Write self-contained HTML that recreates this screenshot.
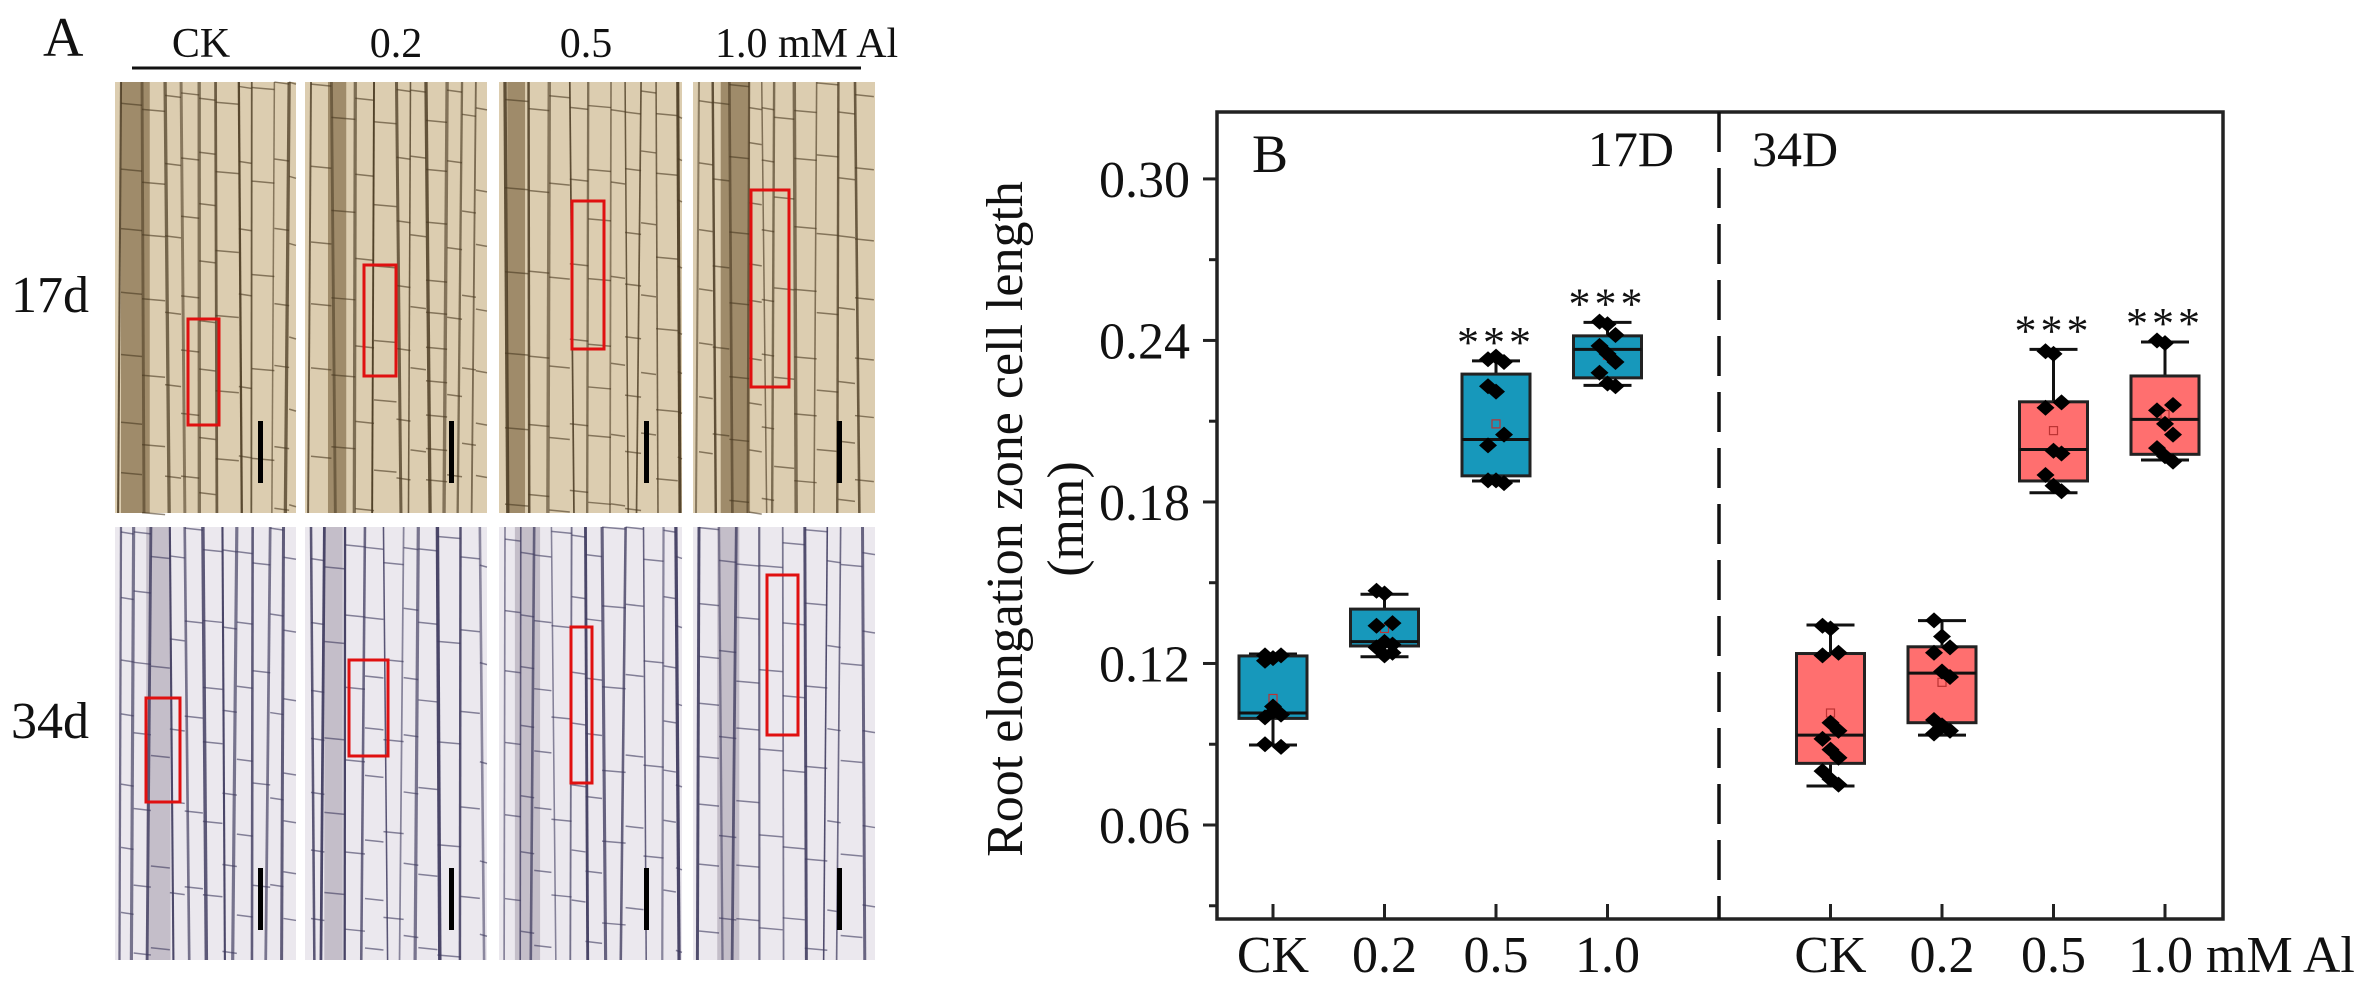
<!DOCTYPE html>
<html><head><meta charset="utf-8"><style>
html,body{margin:0;padding:0;background:#fff;}
svg{display:block;}
text{font-family:"Liberation Serif","DejaVu Serif",serif;fill:#111;}
</style></head><body>
<svg id="fig" width="2357" height="990" viewBox="0 0 2357 990" xmlns="http://www.w3.org/2000/svg">
  <g id="panelA">
    <text x="43" y="56" font-size="56">A</text>
    <text x="201" y="57" font-size="42" text-anchor="middle">CK</text>
    <text x="396" y="57" font-size="42" text-anchor="middle">0.2</text>
    <text x="586" y="57" font-size="42" text-anchor="middle">0.5</text>
    <text x="715" y="57" font-size="42">1.0 mM Al</text>
    <line x1="132" y1="68" x2="861" y2="68" stroke="#111" stroke-width="3"/>
    <text x="11" y="312" font-size="52">17d</text>
    <text x="11" y="738" font-size="52">34d</text>
    <g id="photos"></g>
  </g>
  <g id="panelB"></g>
</svg>
<script>
// ---- chart data ----
const categories = ["CK","0.2","0.5","1.0","CK","0.2","0.5","1.0"];
const groups = ["17D","17D","17D","17D","34D","34D","34D","34D"];
const q1 =      [0.0996,0.1265,0.1897,0.2261,0.0829,0.0980,0.1878,0.1977];
const median =  [0.1016,0.1281,0.2032,0.2367,0.0934,0.1164,0.1995,0.2107];
const q3 =      [0.1228,0.1402,0.2275,0.2417,0.1237,0.1262,0.2172,0.2268];
const whiskLo = [0.0897,0.1225,0.1878,0.2233,0.0745,0.0934,0.1834,0.1956];
const whiskHi = [0.1235,0.1457,0.2324,0.2467,0.1343,0.1359,0.2367,0.2394];
const means =   [0.1070,0.1330,0.2090,0.2345,0.1016,0.1130,0.2065,0.2125];
const signif =  ["","","***","***","","","***","***"];
const pts0 = [0.123,0.122,0.123,0.121,0.102,0.101,0.100,0.104,0.089,0.090];
const pts1 = [0.147,0.146,0.135,0.134,0.128,0.127,0.126,0.123,0.124];
const pts2 = [0.233,0.234,0.232,0.223,0.221,0.205,0.201,0.188,0.187,0.188];
const pts3 = [0.247,0.246,0.242,0.238,0.235,0.232,0.228,0.224,0.223];
const pts4 = [0.134,0.133,0.124,0.123,0.098,0.095,0.092,0.088,0.085,0.080,0.077,0.075];
const pts5 = [0.136,0.130,0.126,0.124,0.117,0.115,0.099,0.097,0.095,0.094];
const pts6 = [0.236,0.235,0.217,0.215,0.199,0.198,0.190,0.186,0.184];
const pts7 = [0.240,0.239,0.216,0.214,0.209,0.205,0.200,0.197,0.195];
const points = [pts0,pts1,pts2,pts3,pts4,pts5,pts6,pts7];
const yTicks = [0.06,0.12,0.18,0.24,0.30];
const yTickLabels = ["0.06","0.12","0.18","0.24","0.30"];
const yMinorTicks = [0.03,0.09,0.15,0.21,0.27];

const NS="http://www.w3.org/2000/svg";
function mk(tag, attrs, parent){const e=document.createElementNS(NS,tag);for(const k in attrs)e.setAttribute(k,attrs[k]);parent.appendChild(e);return e;}

const L=1217, R=2223, T=112, B=919;
function yScale(v){return 825-(v-0.06)*2692;}
function xScale(i){const slot=i<4?i:i+1;return 1273+111.5*slot;}
const g=document.getElementById('panelB');

const frame=mk('rect',{x:L,y:T,width:R-L,height:B-T,fill:'none',stroke:'#222','stroke-width':3.5},g);


const div=mk('line',{x1:1719,y1:T,x2:1719,y2:B,stroke:'#111','stroke-width':3.5,'stroke-dasharray':'40 16'},g);



yTicks.forEach((v,i)=>{
  const y=yScale(v);
  const t=mk('line',{x1:L-14,y1:y,x2:L,y2:y,stroke:'#222','stroke-width':3},g);
  
  
  const lb=mk('text',{x:1190,y:y+18,'font-size':52,'text-anchor':'end'},g);
  lb.textContent=yTickLabels[i];
  
  
});
yMinorTicks.forEach(v=>{
  const y=yScale(v);
  const t=mk('line',{x1:L-8,y1:y,x2:L,y2:y,stroke:'#222','stroke-width':3},g);
  
  
});
const yt=mk('text',{x:0,y:0,'font-size':52,'text-anchor':'middle',transform:'translate(1022,519) rotate(-90)'},g);
yt.textContent='Root elongation zone cell length';


const yt2=mk('text',{x:0,y:0,'font-size':52,'text-anchor':'middle',transform:'translate(1083,519) rotate(-90)'},g);
yt2.textContent='(mm)';



const bl=mk('text',{x:1252,y:172,'font-size':54},g);bl.textContent='B';


const l17=mk('text',{x:1674,y:166,'font-size':50,'text-anchor':'end'},g);l17.textContent='17D';


const l34=mk('text',{x:1752,y:166,'font-size':50},g);l34.textContent='34D';



const fills={"17D":"#1798bb","34D":"#ff6f6f"};
categories.forEach((c,i)=>{
  const x=xScale(i);
  const tk=mk('line',{x1:x,y1:B,x2:x,y2:B-15,stroke:'#222','stroke-width':3},g);
  
  
  const lb=mk('text',{x:i===7?2128:x,y:972,'font-size':52,'text-anchor':i===7?'start':'middle'},g);
  lb.textContent=i===7?'1.0 mM Al':c;
  
  

  const bg=mk('g',{},g);
  
  
  const hw=34;
  mk('line',{x1:x,y1:yScale(whiskHi[i]),x2:x,y2:yScale(whiskLo[i]),stroke:'#111','stroke-width':3},bg);
  mk('line',{x1:x-24,y1:yScale(whiskHi[i]),x2:x+24,y2:yScale(whiskHi[i]),stroke:'#111','stroke-width':3},bg);
  mk('line',{x1:x-24,y1:yScale(whiskLo[i]),x2:x+24,y2:yScale(whiskLo[i]),stroke:'#111','stroke-width':3},bg);
  mk('rect',{x:x-hw,y:yScale(q3[i]),width:hw*2,height:yScale(q1[i])-yScale(q3[i]),fill:fills[groups[i]],stroke:'#222','stroke-width':3},bg);
  mk('line',{x1:x-hw,y1:yScale(median[i]),x2:x+hw,y2:yScale(median[i]),stroke:'#111','stroke-width':3},bg);
  mk('rect',{x:x-4,y:yScale(means[i])-4,width:8,height:8,fill:'none',stroke:'#b33','stroke-width':1.2},bg);
  points[i].forEach((v,k)=>{
    const px=x+((k%3)-1)*8, py=yScale(v);
    const d=mk('path',{d:`M${px} ${py-8}L${px+9} ${py}L${px} ${py+8}L${px-9} ${py}Z`,fill:'#000'},bg);
    
    
  });
  if(signif[i]){
    const s=mk('text',{x:x,y:yScale(whiskHi[i])-4,'font-size':44,'text-anchor':'middle','letter-spacing':'4'},g);
    s.textContent=signif[i];
    
    
  }
});

// ---- micrographs (decorative texture) ----
const ph=document.getElementById('photos');
let seed=7;function rnd(){seed=(seed*16807)%2147483647;return seed/2147483647;}
const cols=[[115,296],[305,487],[499,682],[693,875]];
const rows=[[82,513],[527,960]];
const redBoxes=[[[188,319,31,106],[364,265,32,111],[572,201,32,148],[751,190,38,197]],
                [[146,698,34,104],[349,660,39,96],[571,627,21,156],[767,575,31,160]]];
rows.forEach((r,ri)=>{
  cols.forEach((c,ci)=>{
    const pg=mk('g',{},ph);
    
    
    const w=c[1]-c[0], h=r[1]-r[0];
    const base=ri===0?'#dccdb0':'#ebe8ee';
    mk('rect',{x:c[0],y:r[0],width:w,height:h,fill:base},pg);
    const bandX = c[0]+ (ri===0? 6+rnd()*25 : 5+rnd()*30);
    mk('rect',{x:bandX,y:r[0],width:14+rnd()*16,height:h,fill:ri===0?'#6e5532':'#8a7f92',opacity:ri===0?0.55:0.4},pg);
    const lc=ri===0?'#4a3a22':'#3e3a5e';
    let x=c[0]+6;
    while(x<c[1]-4){
      const sw=1.5+rnd()*2;
      mk('line',{x1:x,y1:r[0],x2:x+(rnd()-0.5)*10,y2:r[1],stroke:lc,'stroke-width':sw,opacity:0.55+rnd()*0.4},pg);
      let y=r[0]+rnd()*40;
      const step=(ri===0?30:45)+rnd()*40;
      const nx=x+12+rnd()*12;
      while(y<r[1]){mk('line',{x1:x,y1:y,x2:Math.min(nx,c[1]),y2:y+2,stroke:lc,'stroke-width':1.5,opacity:0.6},pg);y+=step+rnd()*30;}
      x=nx;
    }
    const rb=redBoxes[ri][ci];
    const rr=mk('rect',{x:rb[0],y:rb[1],width:rb[2],height:rb[3],fill:'none',stroke:'#e01010','stroke-width':3},pg);
    
    
    const sb=mk('rect',{x:c[1]-38,y:r[1]-92,width:5,height:62,fill:'#000'},pg);
    
    
  });
});
</script>
</body></html>
